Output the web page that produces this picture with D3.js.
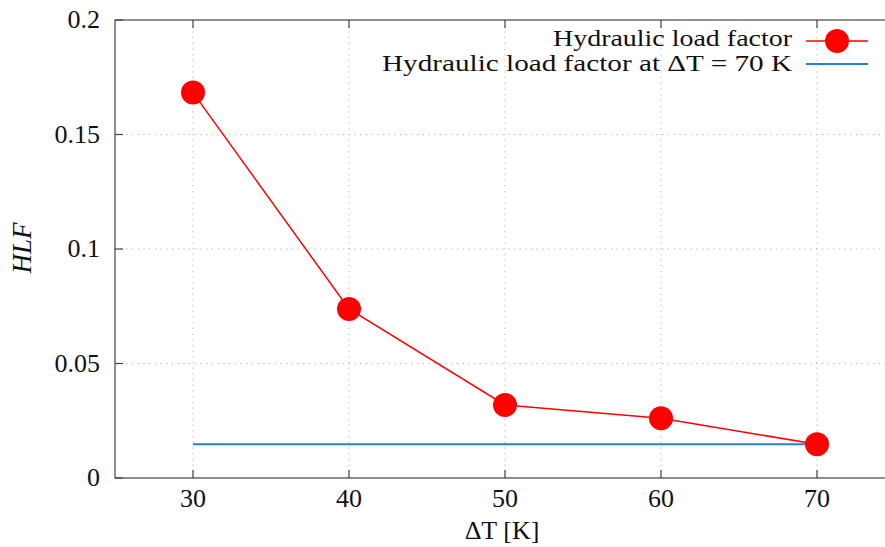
<!DOCTYPE html>
<meta charset="utf-8">
<style>
  body { margin: 0; background: #fff; }
  svg text { font-family: "Liberation Serif", "DejaVu Serif", serif; fill: #111; }
  .grid line { stroke: #b0b0b0; stroke-width: 1; stroke-dasharray: 1.2,4.5; }
</style>
<body>
<script src="https://d3js.org/d3.v7.min.js"></script>
<script>

// data
var deltaT = [30, 40, 50, 60, 70];
var hlf = [0.1683, 0.0738, 0.0319, 0.0261, 0.0147];
var hlfAt70 = 0.0147;
var xTicks = [30, 40, 50, 60, 70];
var yTicks = [0, 0.05, 0.1, 0.15, 0.2];
var yTickLabels = ["0", "0.05", "0.1", "0.15", "0.2"];
var legendLabels = ["Hydraulic load factor", "Hydraulic load factor at ΔT = 70 K"];

var width = 885, height = 547;
var margin = {left: 115, top: 20, bottom: 69};

var svg = d3.select("body").append("svg")
    .attr("width", width).attr("height", height);

// x range runs a bit past the right edge, like the original
var x = d3.scaleLinear().domain([25, 75]).range([margin.left, margin.left + 780]);
var y = d3.scaleLinear().domain([0, 0.2]).range([height - margin.bottom, margin.top]);

var x0 = x.range()[0], x1 = x.range()[1], y0 = y.range()[0], y1 = y.range()[1];

// dotted grid
var grid = svg.append("g").attr("class", "grid");
grid.selectAll("line.v").data(xTicks).enter().append("line")
    .attr("x1", function(d) { return x(d); }).attr("x2", function(d) { return x(d); })
    .attr("y1", y1).attr("y2", y0);
grid.selectAll("line.h").data(yTicks.slice(1, -1)).enter().append("line")
    .attr("x1", x0).attr("x2", x1)
    .attr("y1", function(d) { return y(d); }).attr("y2", function(d) { return y(d); });

// frame
svg.append("rect")
    .attr("x", x0).attr("y", y1).attr("width", x1 - x0).attr("height", y0 - y1)
    .attr("fill", "none").attr("stroke", "#444").attr("stroke-width", 1.2);

// inward ticks
var tickLen = 8;
var ticks = svg.append("g").attr("stroke", "#444").attr("stroke-width", 1.2);
xTicks.forEach(function(d) {
    ticks.append("line").attr("x1", x(d)).attr("x2", x(d)).attr("y1", y0).attr("y2", y0 - tickLen);
    ticks.append("line").attr("x1", x(d)).attr("x2", x(d)).attr("y1", y1).attr("y2", y1 + tickLen);
});
yTicks.forEach(function(d) {
    ticks.append("line").attr("x1", x0).attr("x2", x0 + tickLen).attr("y1", y(d)).attr("y2", y(d));
});

// tick labels
svg.selectAll("text.xt").data(xTicks).enter().append("text")
    .attr("x", function(d) { return x(d); }).attr("y", y0 + 29)
    .attr("text-anchor", "middle").style("font-size", "26px")
    .text(function(d) { return d; });
svg.selectAll("text.yt").data(yTicks).enter().append("text")
    .attr("x", 100).attr("y", function(d) { return y(d) + 8; })
    .attr("text-anchor", "end").style("font-size", "26px")
    .text(function(d, i) { return yTickLabels[i]; });

// axis titles
svg.append("text")
    .attr("x", 502).attr("y", 539)
    .attr("text-anchor", "middle").style("font-size", "26px")
    .text("ΔT [K]");
svg.append("text")
    .attr("transform", "translate(31," + 248 + ") rotate(-90)")
    .attr("text-anchor", "middle").style("font-size", "27px").style("font-style", "italic")
    .text("HLF");

// reference line at ΔT = 70 K
svg.append("line")
    .attr("x1", x(deltaT[0])).attr("x2", x(deltaT[deltaT.length - 1]))
    .attr("y1", y(hlfAt70)).attr("y2", y(hlfAt70))
    .attr("stroke", "#2a7fcc").attr("stroke-width", 2);

// hydraulic load factor series
var pts = deltaT.map(function(d, i) { return [d, hlf[i]]; });
svg.append("path")
    .datum(pts)
    .attr("fill", "none").attr("stroke", "#ff0000").attr("stroke-width", 1.5)
    .attr("d", d3.line().x(function(d) { return x(d[0]); }).y(function(d) { return y(d[1]); }));
svg.selectAll("circle.pt").data(pts).enter().append("circle")
    .attr("cx", function(d) { return x(d[0]); }).attr("cy", function(d) { return y(d[1]); })
    .attr("r", 12).attr("fill", "#ff0000");

// legend (glyphs widened to the wider TeX font of the original)
var leg = svg.append("g");
leg.append("text").attr("x", 792).attr("y", 46).attr("text-anchor", "end")
    .attr("textLength", 239).attr("lengthAdjust", "spacingAndGlyphs")
    .style("font-size", "22.5px").text(legendLabels[0]);
leg.append("line").attr("x1", 806).attr("x2", 868).attr("y1", 41).attr("y2", 41)
    .attr("stroke", "#ff0000").attr("stroke-width", 1.5);
leg.append("circle").attr("cx", 837).attr("cy", 41).attr("r", 12).attr("fill", "#ff0000");
leg.append("text").attr("x", 792).attr("y", 71).attr("text-anchor", "end")
    .attr("textLength", 410).attr("lengthAdjust", "spacingAndGlyphs")
    .style("font-size", "22.5px").text(legendLabels[1]);
leg.append("line").attr("x1", 806).attr("x2", 868).attr("y1", 64).attr("y2", 64)
    .attr("stroke", "#2a7fcc").attr("stroke-width", 2);

</script>
</body>
